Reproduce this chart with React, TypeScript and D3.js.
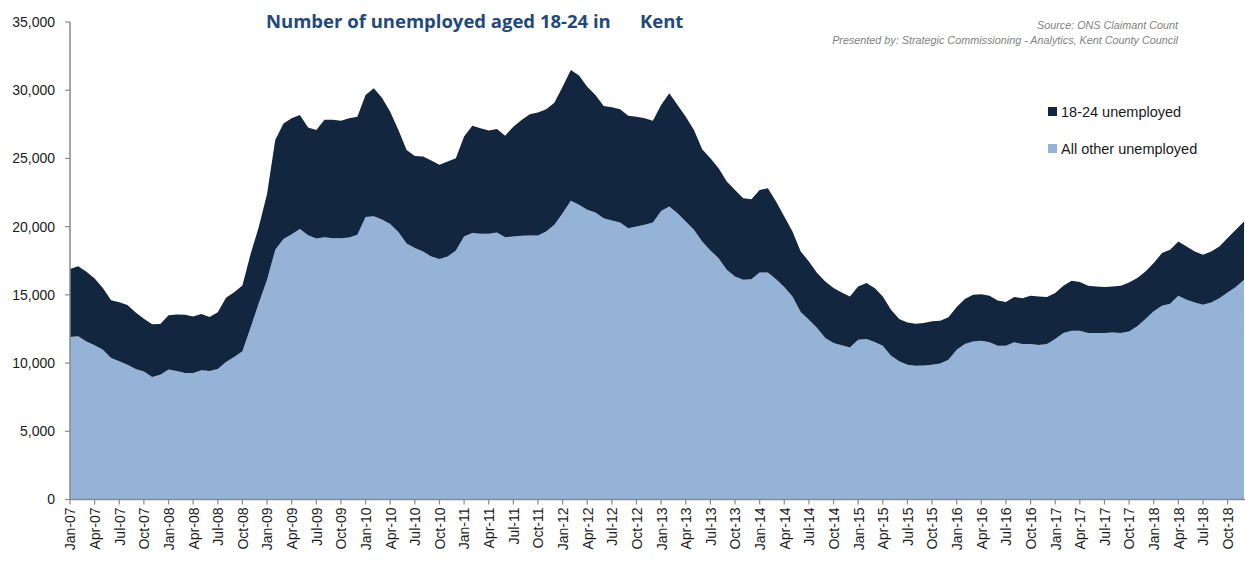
import React from 'react';
import * as d3 from 'd3';

// monthly series Jan-07 .. Dec-18
const otherUnemployed = [
  11910, 11960, 11590, 11300, 10980, 10370, 10130, 9880, 9570, 9390, 8980, 9150,
  9520, 9420, 9270, 9270, 9470, 9420, 9570, 10080, 10450, 10860, 12600, 14400,
  16100, 18300, 19100, 19450, 19830, 19370, 19130, 19230, 19150, 19150, 19200, 19400,
  20700, 20770, 20530, 20200, 19600, 18760, 18430, 18180, 17810, 17620, 17810, 18250,
  19280, 19530, 19480, 19480, 19570, 19230, 19280, 19330, 19350, 19350, 19650, 20130,
  20990, 21890, 21600, 21230, 21030, 20620, 20450, 20300, 19890, 20010, 20130, 20300,
  21150, 21470, 20990, 20380, 19770, 18910, 18250, 17690, 16840, 16350, 16100, 16150,
  16640, 16640, 16150, 15570, 14880, 13750, 13180, 12570, 11840, 11470, 11300, 11150,
  11710, 11760, 11540, 11270, 10540, 10130, 9880, 9810, 9830, 9880, 9960, 10250,
  10980, 11400, 11590, 11640, 11520, 11270, 11270, 11520, 11400, 11400, 11320, 11400,
  11760, 12200, 12370, 12370, 12200, 12200, 12200, 12250, 12200, 12320, 12690, 13230,
  13790, 14200, 14350, 14930, 14640, 14440, 14270, 14440, 14760, 15180, 15570, 16100,
];

const youthUnemployed = [
  4990, 5140, 5110, 4900, 4520, 4230, 4320, 4370, 4130, 3860, 3870, 3720,
  3980, 4140, 4280, 4150, 4120, 3950, 4150, 4700, 4750, 4820, 5400, 5600,
  6300, 8050, 8460, 8500, 8360, 7890, 7960, 8610, 8690, 8610, 8750, 8660,
  8950, 9370, 8910, 8230, 7490, 6860, 6750, 6970, 7030, 6910, 6960, 6760,
  7320, 7870, 7730, 7560, 7590, 7440, 8050, 8490, 8890, 9010, 8950, 8960,
  9270, 9590, 9470, 9030, 8620, 8220, 8300, 8300, 8240, 8050, 7820, 7470,
  7770, 8300, 7930, 7680, 7320, 6760, 6760, 6590, 6460, 6340, 5980, 5860,
  6050, 6180, 5690, 5170, 4770, 4430, 4270, 4030, 4140, 4030, 3880, 3730,
  3910, 4100, 3960, 3610, 3370, 3100, 3100, 3070, 3110, 3180, 3140, 3100,
  3130, 3290, 3420, 3410, 3410, 3320, 3200, 3320, 3360, 3530, 3560, 3440,
  3370, 3470, 3670, 3580, 3470, 3420, 3370, 3370, 3470, 3590, 3540, 3490,
  3540, 3860, 3950, 3980, 3910, 3740, 3670, 3740, 3790, 3980, 4200, 4280,
];

const monthNames = ['Jan', 'Feb', 'Mar', 'Apr', 'May', 'Jun', 'Jul', 'Aug', 'Sep', 'Oct', 'Nov', 'Dec'];
const years = ['07', '08', '09', '10', '11', '12', '13', '14', '15', '16', '17', '18'];
const months = years.flatMap(y => monthNames.map(m => `${m}-${y}`));

const yTicks = [0, 5000, 10000, 15000, 20000, 25000, 30000, 35000];

const DARK = '#12263f';
const LIGHT = '#95b3d7';
const AXIS = '#8a8a8a';
const TEXT = '#1a1a1a';

export default function App() {
  const width = 1245;
  const height = 579;
  const margin = { top: 22, left: 70, bottom: 499.5 };

  const x = d3.scalePoint<string>()
    .domain(months)
    .range([margin.left, margin.left + 8.21 * (months.length - 1)]);

  const y = d3.scaleLinear()
    .domain([0, 35000])
    .range([margin.bottom, margin.top]);

  const rows = months.map((m, i) => ({ month: m, other: otherUnemployed[i], youth: youthUnemployed[i] }));
  const series = d3.stack<any>().keys(['other', 'youth'])(rows);

  const area = d3.area<any>()
    .x(d => x(d.data.month)!)
    .y0(d => y(d[0]))
    .y1(d => y(d[1]));

  const colors: Record<string, string> = { other: LIGHT, youth: DARK };
  const fmt = d3.format(',');
  const xTicks = months.filter((_, i) => i % 3 === 0);
  const font = '"Liberation Sans", Arial, sans-serif';
  const titleFont = '"Open Sans", "Liberation Sans", sans-serif';

  return (
    <svg width={width} height={height} style={{ position: 'absolute', left: 0, top: 0, background: '#fff' }} fontFamily={font}>
      {series.map(s => (
        <path key={s.key} d={area(s) || ''} fill={colors[s.key]} />
      ))}

      {/* y axis */}
      <line x1={margin.left} x2={margin.left} y1={margin.top} y2={margin.bottom} stroke={AXIS} strokeWidth={1.5} />
      {yTicks.map(t => (
        <g key={t}>
          <line x1={margin.left - 5} x2={margin.left} y1={y(t)} y2={y(t)} stroke={AXIS} strokeWidth={1.2} />
          <text x={55} y={y(t)} dy="0.35em" textAnchor="end" fontSize={14} fill={TEXT}>{fmt(t)}</text>
        </g>
      ))}

      {/* x axis */}
      <line x1={margin.left} x2={width} y1={margin.bottom} y2={margin.bottom} stroke={AXIS} strokeWidth={1.5} />
      {xTicks.map(m => (
        <g key={m}>
          <line x1={x(m)} x2={x(m)} y1={margin.bottom} y2={margin.bottom + 5} stroke={AXIS} strokeWidth={1.2} />
          <text transform={`translate(${x(m)! + 0.5},${margin.bottom + 8}) rotate(-90)`} dy="0.35em" textAnchor="end" fontSize={14} fill={TEXT}>{m}</text>
        </g>
      ))}

      {/* title */}
      <text x={266} y={28} fontSize={18.5} fontWeight="bold" fontFamily={titleFont} fill="#1f497d">Number of unemployed aged 18-24 in</text>
      <text x={640} y={28} fontSize={18.5} fontWeight="bold" fontFamily={titleFont} fill="#1f497d">Kent</text>

      <text x={1178} y={29} textAnchor="end" fontSize={10.8} fontStyle="italic" fill="#7f7f7f">Source: ONS Claimant Count</text>
      <text x={1178} y={44} textAnchor="end" fontSize={10.8} fontStyle="italic" fill="#7f7f7f">Presented by: Strategic Commissioning - Analytics, Kent County Council</text>

      {/* legend */}
      <rect x={1048} y={107} width={9} height={9} fill={DARK} />
      <text x={1061} y={117} fontSize={14.5} fill={TEXT}>18-24 unemployed</text>
      <rect x={1048} y={144} width={9} height={9} fill={LIGHT} />
      <text x={1061} y={154} fontSize={14.5} fill={TEXT}>All other unemployed</text>
    </svg>
  );
}
